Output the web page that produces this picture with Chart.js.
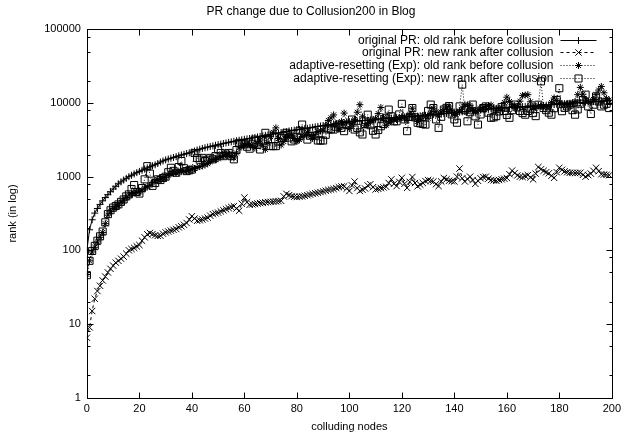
<!DOCTYPE html>
<html>
<head>
<meta charset="utf-8">
<title>PR change due to Collusion200 in Blog</title>
<script src="https://cdn.jsdelivr.net/npm/chart.js@4.4.1/dist/chart.umd.min.js"></script>
<style>
  body { margin: 0; background: #fff; }
</style>
</head>
<body>
<canvas id="PRChangeChart" width="626" height="438"></canvas>
<script>
// colluding node index (x)
const nodes = [0, 1, 2, 3, 4, 5, 6, 7, 8, 9, 10, 11, 12, 13, 14, 15, 16, 17, 18, 19,
    20, 21, 22, 23, 24, 25, 26, 27, 28, 29, 30, 31, 32, 33, 34, 35, 36, 37, 38, 39,
    40, 41, 42, 43, 44, 45, 46, 47, 48, 49, 50, 51, 52, 53, 54, 55, 56, 57, 58, 59,
    60, 61, 62, 63, 64, 65, 66, 67, 68, 69, 70, 71, 72, 73, 74, 75, 76, 77, 78, 79,
    80, 81, 82, 83, 84, 85, 86, 87, 88, 89, 90, 91, 92, 93, 94, 95, 96, 97, 98, 99,
    100, 101, 102, 103, 104, 105, 106, 107, 108, 109, 110, 111, 112, 113, 114, 115, 116, 117, 118, 119,
    120, 121, 122, 123, 124, 125, 126, 127, 128, 129, 130, 131, 132, 133, 134, 135, 136, 137, 138, 139,
    140, 141, 142, 143, 144, 145, 146, 147, 148, 149, 150, 151, 152, 153, 154, 155, 156, 157, 158, 159,
    160, 161, 162, 163, 164, 165, 166, 167, 168, 169, 170, 171, 172, 173, 174, 175, 176, 177, 178, 179,
    180, 181, 182, 183, 184, 185, 186, 187, 188, 189, 190, 191, 192, 193, 194, 195, 196, 197, 198, 199];

// original PR: old rank before collusion
const oldRankPR = [100, 190, 260, 320, 370, 420, 470, 520, 570, 625, 680, 740, 800, 850, 900, 950, 1000, 1045, 1090, 1135,
    1180, 1225, 1270, 1315, 1360, 1405, 1450, 1510, 1580, 1635, 1690, 1735, 1780, 1825, 1870, 1920, 1970, 2015, 2060, 2110,
    2160, 2230, 2300, 2360, 2420, 2470, 2520, 2570, 2620, 2670, 2720, 2770, 2820, 2870, 2920, 2970, 3020, 3070, 3120, 3170,
    3220, 3260, 3300, 3355, 3410, 3465, 3520, 3580, 3640, 3695, 3750, 3805, 3860, 3920, 3980, 4045, 4110, 4170, 4230, 4280,
    4330, 4385, 4440, 4495, 4550, 4615, 4680, 4750, 4820, 4880, 4940, 5000, 5060, 5125, 5190, 5250, 5310, 5375, 5440, 5510,
    5580, 5620, 5660, 5700, 5740, 5780, 5820, 5860, 5900, 5950, 6000, 6050, 6100, 6140, 6180, 6220, 6260, 6300, 6340, 6380,
    6420, 6460, 6500, 6540, 6580, 6615, 6650, 6700, 6750, 6805, 6860, 6910, 6960, 7010, 7060, 7115, 7170, 7225, 7280, 7340,
    7400, 7460, 7520, 7585, 7650, 7715, 7780, 7850, 7920, 7990, 8060, 8150, 8250, 8300, 8350, 8400, 8450, 8500, 8550, 8595,
    8640, 8685, 8730, 8775, 8820, 8870, 8920, 8965, 9010, 9055, 9100, 9150, 9200, 9250, 9300, 9360, 9420, 9485, 9550, 9615,
    9680, 9740, 9800, 9865, 9930, 9990, 10050, 10110, 10170, 10225, 10280, 10340, 10400, 10450, 10500, 10560, 10620, 10685, 10750, 10820];

// original PR: new rank after collusion
const newRankPR = [6.5, 9, 15, 22, 28, 33, 39, 44, 50, 56, 62, 68, 72, 77, 82, 90, 100, 104, 108, 113,
    118, 135, 150, 165, 172, 166, 160, 157, 158, 168, 175, 180, 185, 190, 195, 205, 212, 222, 235, 262,
    290, 270, 252, 256, 262, 270, 278, 295, 310, 318, 325, 338, 350, 362, 375, 388, 398, 370, 345, 430,
    520, 450, 415, 420, 425, 432, 438, 443, 448, 452, 455, 458, 462, 466, 470, 540, 585, 560, 545, 535,
    530, 535, 540, 550, 560, 572, 585, 595, 605, 618, 630, 645, 660, 670, 680, 700, 720, 735, 740, 690,
    640, 760, 860, 700, 640, 665, 690, 760, 790, 720, 670, 685, 700, 715, 730, 820, 920, 800, 745, 850,
    965, 800, 705, 850, 990, 820, 740, 780, 820, 870, 900, 880, 860, 790, 745, 860, 960, 920, 880, 870,
    860, 1000, 1290, 950, 860, 930, 1000, 900, 800, 880, 950, 990, 1000, 940, 900, 890, 880, 900, 920, 940,
    960, 1080, 1210, 1120, 1040, 1000, 990, 1020, 1050, 980, 920, 1100, 1350, 1260, 1200, 1150, 1110, 1030, 965, 1150,
    1320, 1240, 1180, 1150, 1130, 1125, 1120, 1125, 1130, 1060, 1000, 1050, 1100, 1200, 1320, 1190, 1080, 1070, 1060, 1050];

// adaptive-resetting (Exp): old rank before collusion
const oldRankExp = [47, 72, 95, 110, 130, 150, 175, 230, 300, 340, 370, 395, 410, 450, 480, 520, 560, 585, 600, 610,
    620, 660, 700, 730, 760, 820, 880, 910, 940, 960, 980, 1050, 1100, 1110, 1120, 1150, 1180, 1190, 1200, 1230,
    1250, 1290, 1330, 1370, 1400, 1450, 1500, 1600, 1700, 1720, 1750, 1850, 1950, 2000, 2050, 1920, 1800, 2100, 2450, 2600,
    2700, 2720, 2750, 2600, 2450, 2800, 3150, 2700, 2350, 2900, 3500, 4000, 4600, 3300, 2700, 3000, 3400, 3600, 3800, 3300,
    3000, 3200, 3450, 3700, 4000, 3600, 3300, 3700, 4100, 4200, 4300, 5000, 5800, 6300, 6900, 5200, 4400, 5600, 7300, 5500,
    4500, 5200, 6000, 7500, 9500, 6500, 5000, 5200, 5500, 5800, 6200, 7200, 8700, 6400, 5000, 5400, 5700, 5900, 6000, 6200,
    6500, 6100, 5800, 7000, 8500, 6500, 5600, 6200, 6800, 6500, 6200, 7200, 8500, 7600, 7000, 7500, 8100, 8600, 9100, 7800,
    7000, 7400, 7800, 8600, 9500, 9400, 9300, 8200, 7500, 8000, 8500, 8700, 9000, 9200, 9400, 8600, 8000, 8400, 8800, 10200,
    12000, 10500, 9500, 9200, 9000, 10600, 12700, 12800, 13000, 10400, 8500, 8800, 9200, 9000, 8800, 8900, 9000, 10200, 11700, 10800,
    10000, 9800, 9600, 9550, 9500, 10000, 10500, 13000, 16300, 13200, 11000, 10600, 10200, 11200, 13000, 15000, 16800, 13800, 11500, 11000];

// adaptive-resetting (Exp): new rank after collusion
const newRankExp = [46, 72, 98, 115, 135, 155, 180, 240, 310, 350, 380, 400, 420, 455, 490, 540, 575, 680, 770, 620,
    590, 700, 920, 1390, 1100, 750, 820, 920, 900, 960, 1000, 1150, 1320, 1200, 1130, 1350, 1630, 1300, 1190, 1220,
    1250, 2100, 1800, 1700, 1800, 1630, 1700, 1800, 1720, 1900, 2340, 2100, 1900, 2000, 2100, 1900, 1720, 2300, 2880, 2800,
    2750, 2550, 2400, 2800, 3190, 2700, 2340, 3100, 3940, 3200, 2600, 2600, 2600, 3000, 3370, 3600, 3940, 3400, 3020, 3200,
    3440, 4200, 5100, 4000, 3190, 3600, 4150, 3600, 3100, 3100, 3100, 3700, 4370, 4400, 4370, 4700, 5100, 4600, 4150, 5000,
    5100, 5970, 4370, 4600, 4000, 3740, 5200, 6950, 5000, 4200, 3740, 4300, 4840, 5200, 6300, 8150, 6600, 5650, 5650, 7000,
    9750, 6000, 4150, 6500, 8550, 6400, 5400, 5300, 5200, 5100, 7800, 9530, 8550, 6000, 4600, 6500, 8150, 8600, 9100, 7000,
    6000, 5400, 9000, 17800, 8000, 5650, 7500, 9530, 6600, 5100, 7000, 8550, 9000, 7400, 6300, 6400, 6640, 7700, 8800, 7800,
    6900, 6300, 8000, 9530, 8700, 7800, 7300, 6950, 7800, 8400, 7300, 6640, 9500, 19700, 8550, 8000, 7400, 6950, 8500, 11000,
    15900, 7750, 8600, 9000, 9530, 8000, 6950, 8200, 9800, 11000, 13000, 9000, 7100, 9500, 12300, 10500, 9000, 9500, 9800, 8550];

const seriesLabels = [
    'original PR: old rank before collusion',
    'original PR: new rank after collusion',
    'adaptive-resetting (Exp): old rank before collusion',
    'adaptive-resetting (Exp): new rank after collusion'
];
const xTicks = [0, 20, 40, 60, 80, 100, 120, 140, 160, 180, 200];
const yTicks = [1, 10, 100, 1000, 10000, 100000];
const yMinorSteps = [2, 5, 8];

Chart.defaults.font.family = "'Liberation Sans', Arial, Helvetica, sans-serif";
Chart.defaults.font.size = 11;
Chart.defaults.color = '#000';

function toPoints(values) {
    return nodes.map((n, i) => ({ x: n, y: values[i] }));
}

// gnuplot style box with inward ticks on all four sides, plus a key in the top right
const gnuplotFrame = {
    id: 'gnuplotFrame',
    afterDraw(chart) {
        const ctx = chart.ctx;
        const area = chart.chartArea;
        const xScale = chart.scales.x;
        const yScale = chart.scales.y;
        const left = Math.round(area.left) + 0.5;
        const right = Math.round(area.right) + 0.5;
        const top = Math.round(area.top) + 0.5;
        const bottom = Math.round(area.bottom) + 0.5;

        ctx.save();
        ctx.strokeStyle = '#000';
        ctx.lineWidth = 1;
        ctx.setLineDash([]);
        ctx.strokeRect(left, top, right - left, bottom - top);

        ctx.beginPath();
        xTicks.forEach(v => {
            const px = Math.round(xScale.getPixelForValue(v)) + 0.5;
            ctx.moveTo(px, bottom); ctx.lineTo(px, bottom - 6);
            ctx.moveTo(px, top); ctx.lineTo(px, top + 6);
        });
        yTicks.forEach(v => {
            const py = Math.round(yScale.getPixelForValue(v)) + 0.5;
            ctx.moveTo(left, py); ctx.lineTo(left + 6, py);
            ctx.moveTo(right, py); ctx.lineTo(right - 6, py);
        });
        yTicks.slice(0, -1).forEach(decade => {
            yMinorSteps.forEach(m => {
                const py = Math.round(yScale.getPixelForValue(decade * m)) + 0.5;
                ctx.moveTo(left, py); ctx.lineTo(left + 3, py);
                ctx.moveTo(right, py); ctx.lineTo(right - 3, py);
            });
        });
        ctx.stroke();

        // key
        const textRight = right - 59;
        const lineStart = right - 52;
        const lineEnd = right - 16;
        ctx.font = "12px 'Liberation Sans', Arial, Helvetica, sans-serif";
        ctx.textAlign = 'right';
        ctx.textBaseline = 'middle';
        chart.data.datasets.forEach((ds, i) => {
            const rowY = Math.round(top + 10 + i * 12.8) + 0.5;
            ctx.fillStyle = '#000';
            ctx.fillText(ds.label, textRight, rowY);
            ctx.strokeStyle = ds.borderColor;
            ctx.lineWidth = 1;
            ctx.setLineDash(ds.borderDash || []);
            ctx.beginPath();
            ctx.moveTo(lineStart, rowY);
            ctx.lineTo(lineEnd, rowY);
            ctx.stroke();
            ctx.setLineDash([]);
            ctx.fillStyle = 'rgba(0,0,0,0)';
            ctx.strokeStyle = '#000';
            Chart.helpers.drawPoint(ctx, {
                pointStyle: ds.pointStyle,
                radius: ds.pointRadius,
                rotation: 0,
                borderWidth: 1
            }, (lineStart + lineEnd) / 2, rowY);
        });
        ctx.restore();
    }
};

function generateChart() {
    const context = document.getElementById('PRChangeChart').getContext('2d');
    new Chart(context, {
        type: 'line',
        data: {
            datasets: [{
                label: seriesLabels[0],
                data: toPoints(oldRankPR),
                borderColor: '#000',
                borderWidth: 1,
                pointStyle: 'cross',
                pointRadius: 3.5,
                pointBorderColor: '#000',
                pointBorderWidth: 1,
                tension: 0,
                fill: false
            }, {
                label: seriesLabels[1],
                data: toPoints(newRankPR),
                borderColor: '#000',
                borderWidth: 1,
                borderDash: [3, 3],
                pointStyle: 'crossRot',
                pointRadius: 4.5,
                pointBorderColor: '#000',
                pointBorderWidth: 1,
                tension: 0,
                fill: false
            }, {
                label: seriesLabels[2],
                data: toPoints(oldRankExp),
                borderColor: '#000',
                borderWidth: 1,
                borderDash: [1, 2],
                pointStyle: 'star',
                pointRadius: 3.5,
                pointBorderColor: '#000',
                pointBorderWidth: 1,
                tension: 0,
                fill: false
            }, {
                label: seriesLabels[3],
                data: toPoints(newRankExp),
                borderColor: '#000',
                borderWidth: 1,
                borderDash: [1, 2],
                pointStyle: 'rect',
                pointRadius: 5,
                pointBackgroundColor: 'rgba(0,0,0,0)',
                pointBorderColor: '#000',
                pointBorderWidth: 1,
                tension: 0,
                fill: false
            }]
        },
        options: {
            responsive: false,
            animation: false,
            devicePixelRatio: 1,
            layout: {
                padding: { left: 6, right: 10, top: 0, bottom: 4 }
            },
            plugins: {
                legend: { display: false },
                tooltip: { enabled: false },
                title: {
                    display: true,
                    text: 'PR change due to Collusion200 in Blog',
                    font: { size: 12, weight: 'normal' },
                    padding: { top: 4, bottom: 11 }
                }
            },
            scales: {
                x: {
                    type: 'linear',
                    min: 0,
                    max: 200,
                    afterBuildTicks: scale => {
                        scale.ticks = xTicks.map(v => ({ value: v }));
                    },
                    ticks: { padding: 5, maxRotation: 0 },
                    grid: { display: false, drawTicks: false },
                    border: { display: false },
                    title: {
                        display: true,
                        text: 'colluding nodes',
                        padding: { top: 0, bottom: 0 }
                    }
                },
                y: {
                    type: 'logarithmic',
                    min: 1,
                    max: 100000,
                    afterBuildTicks: scale => {
                        scale.ticks = yTicks.map(v => ({ value: v }));
                    },
                    ticks: {
                        padding: 6,
                        callback: value => String(value)
                    },
                    grid: { display: false, drawTicks: false },
                    border: { display: false },
                    title: {
                        display: true,
                        text: 'rank (in log)',
                        padding: { top: 0, bottom: 19 }
                    }
                }
            }
        },
        plugins: [gnuplotFrame]
    });
}

generateChart();
</script>
</body>
</html>
